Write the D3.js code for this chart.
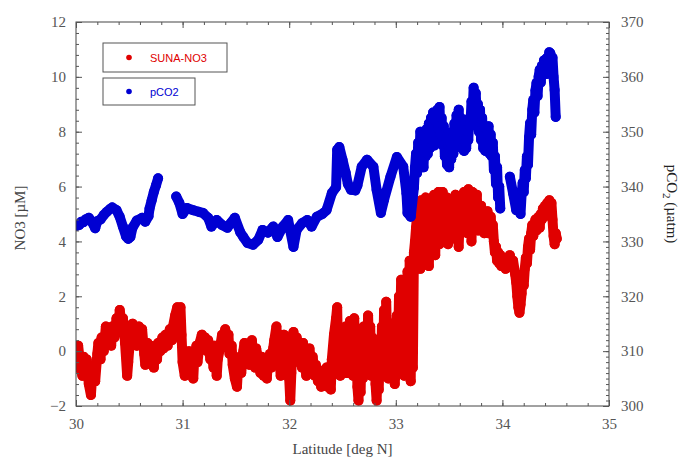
<!DOCTYPE html>
<html>
<head>
<meta charset="utf-8">
<script src="https://cdn.jsdelivr.net/npm/d3@7"></script>
<style>
  html, body { margin: 0; padding: 0; background: #fff; }
  svg { display: block; }
</style>
</head>
<body>
<svg id="chart" width="686" height="459"></svg>
<script>
// Underway survey: SUNA nitrate (left axis) and pCO2 (right axis) vs latitude.
// Gaps in the pCO2 record are marked with null.

const no3Lat = [
  30.00,30.01,30.02,30.04,30.06,30.07,30.09,30.10,30.12,30.14,30.15,30.17,30.18,30.20,30.21,30.23,30.24,30.26,30.28,30.29,
  30.31,30.33,30.34,30.36,30.38,30.40,30.41,30.43,30.44,30.46,30.48,30.49,30.51,30.53,30.55,30.57,30.59,30.61,30.62,30.64,
  30.65,30.67,30.68,30.70,30.71,30.73,30.74,30.76,30.77,30.79,30.81,30.82,30.84,30.86,30.88,30.90,30.91,30.93,30.95,30.96,
  30.98,30.99,31.00,31.02,31.03,31.05,31.06,31.08,31.10,31.11,31.13,31.14,31.16,31.18,31.19,31.21,31.23,31.24,31.26,31.27,
  31.29,31.30,31.32,31.33,31.35,31.37,31.38,31.40,31.41,31.43,31.44,31.46,31.47,31.49,31.51,31.52,31.54,31.55,31.57,31.58,
  31.60,31.61,31.63,31.65,31.66,31.68,31.69,31.71,31.73,31.74,31.76,31.77,31.79,31.80,31.82,31.83,31.85,31.86,31.88,31.89,
  31.91,31.92,31.93,31.95,31.96,31.98,31.99,32.00,32.01,32.02,32.03,32.04,32.06,32.07,32.09,32.10,32.12,32.13,32.15,32.16,
  32.18,32.19,32.21,32.22,32.24,32.25,32.27,32.28,32.30,32.31,32.33,32.35,32.36,32.38,32.39,32.40,32.42,32.44,32.45,32.46,
  32.47,32.48,32.49,32.50,32.51,32.52,32.53,32.54,32.55,32.56,32.57,32.58,32.59,32.60,32.61,32.62,32.63,32.64,32.65,32.66,
  32.67,32.68,32.69,32.70,32.71,32.72,32.73,32.74,32.75,32.76,32.77,32.78,32.79,32.80,32.81,32.82,32.83,32.84,32.85,32.86,
  32.87,32.88,32.89,32.90,32.91,32.92,32.93,32.94,32.95,32.96,32.97,32.98,32.99,33.00,33.01,33.02,33.03,33.04,33.05,33.06,
  33.07,33.08,33.09,33.10,33.11,33.12,33.13,33.14,33.15,33.16,33.17,33.18,33.19,33.20,33.21,33.22,33.23,33.24,33.25,33.26,
  33.27,33.28,33.29,33.30,33.31,33.32,33.33,33.34,33.35,33.36,33.37,33.38,33.39,33.40,33.41,33.42,33.43,33.44,33.45,33.46,
  33.47,33.48,33.49,33.50,33.51,33.52,33.53,33.54,33.55,33.56,33.57,33.58,33.59,33.60,33.61,33.62,33.63,33.64,33.65,33.66,
  33.67,33.68,33.69,33.70,33.71,33.72,33.73,33.74,33.75,33.76,33.77,33.78,33.79,33.80,33.81,33.82,33.83,33.84,33.85,33.86,
  33.87,33.88,33.89,33.90,33.91,33.92,33.93,33.94,33.95,33.96,33.97,33.98,33.99,34.01,34.03,34.05,34.07,34.09,34.10,34.12,
  34.13,34.14,34.15,34.16,34.17,34.18,34.19,34.20,34.21,34.22,34.23,34.24,34.25,34.26,34.27,34.28,34.29,34.30,34.31,34.32,
  34.33,34.34,34.35,34.36,34.37,34.38,34.39,34.40,34.41,34.42,34.43,34.44,34.45,34.46,34.47,34.48,34.49,34.50,34.51
];
const no3 = [
  0.0,-0.6,0.2,-0.5,-0.9,-0.2,-0.8,-0.3,-1.2,-1.6,-1.0,-0.6,-1.1,-0.1,0.3,-0.3,0.5,0.0,0.9,0.4,
  0.8,0.2,0.9,0.5,1.2,0.8,1.5,0.9,1.2,0.3,-0.9,-0.4,0.6,1.0,0.5,0.2,0.9,0.4,0.8,-0.1,
  -0.5,0.3,-0.2,0.2,-0.4,-0.6,0.0,-0.3,0.3,0.0,0.5,0.1,0.6,0.2,0.8,0.4,0.9,1.3,1.6,1.2,
  1.6,0.6,-0.4,-0.9,-0.3,-0.6,0.0,-0.8,-1.0,-0.2,0.2,-0.4,0.3,0.6,0.1,0.5,0.0,0.4,-0.3,0.1,
  -0.6,0.2,-0.9,-0.3,0.1,0.6,0.2,0.8,0.3,0.6,-0.1,0.2,-0.5,-1.0,-1.3,-0.6,-0.2,-0.8,0.0,0.3,
  -0.4,0.0,-0.5,0.4,-0.2,-0.6,0.1,-0.3,-0.8,-0.2,-0.9,-0.5,-1.0,-0.4,-0.1,-0.6,0.1,0.4,0.9,0.3,
  -0.3,-0.9,-0.2,0.6,0.0,-0.6,0.5,-1.0,-1.8,-0.8,0.2,0.7,0.0,0.5,-0.4,0.1,-0.6,0.3,-0.5,-0.9,
  -0.2,0.1,-0.6,-0.2,-0.9,-0.5,-1.1,-0.7,-1.3,-0.8,-1.0,-0.6,-1.3,-1.0,-1.4,-0.3,0.6,1.2,1.6,-0.5,
  0.8,-0.9,0.5,-0.7,0.6,-0.4,0.9,-0.8,0.4,-0.6,1.1,-0.3,0.8,-0.9,1.2,-0.5,0.5,-1.3,-1.8,-0.6,
  -1.5,0.4,-1.0,0.9,-0.7,0.7,-0.5,1.3,-0.2,0.9,-0.9,0.5,-0.6,0.2,-1.2,-1.8,-0.7,-1.4,0.3,-0.9,
  0.9,-0.5,1.5,-0.4,1.8,0.2,-1.0,0.6,-0.5,1.0,-0.8,0.4,-1.2,-0.5,1.3,-0.3,2.0,0.5,2.6,-0.4,
  2.3,-0.9,1.5,-0.6,2.9,0.0,3.3,-1.1,3.0,-0.6,3.6,4.0,4.5,5.0,3.3,5.3,3.0,5.5,3.5,5.2,
  3.2,5.6,3.8,5.4,3.1,5.0,3.6,5.6,4.0,5.7,3.5,5.3,4.2,5.8,3.9,5.5,4.3,5.8,4.0,5.4,
  4.5,5.6,3.9,5.2,4.4,5.5,4.1,5.3,4.6,5.7,4.2,5.4,3.8,5.0,4.4,5.6,4.6,5.8,4.9,5.6,
  4.3,5.9,5.0,5.6,4.0,5.8,4.6,5.5,4.8,5.7,4.4,5.2,4.6,5.3,4.5,5.0,4.3,4.9,4.6,5.1,
  4.3,4.7,4.9,4.4,4.6,4.0,3.6,3.8,3.3,3.6,3.2,3.5,3.1,3.4,3.0,3.3,3.5,3.1,3.3,2.8,
  2.5,2.0,1.6,1.4,1.7,2.1,2.7,2.4,3.0,3.4,3.2,3.8,4.1,3.7,4.3,4.6,4.2,4.5,4.8,4.4,
  4.7,4.9,4.5,5.0,4.8,5.2,4.9,5.3,5.0,5.4,5.2,5.5,5.2,5.4,4.8,4.2,3.9,4.3,4.1
];

const co2Lat = [
  30.00,30.03,30.05,30.07,30.09,30.12,30.14,30.16,30.18,30.20,30.23,30.26,30.29,30.32,30.34,30.38,30.41,30.44,30.47,30.49,
  30.51,30.53,30.57,30.62,30.65,30.68,30.69,30.71,30.73,30.75,30.77,30.85,
  30.94,30.97,31.00,31.04,31.10,31.15,31.19,31.24,31.27,31.32,31.37,31.42,31.45,31.49,31.54,31.57,31.61,31.66,31.71,31.75,
  31.80,31.85,31.89,31.94,31.99,32.04,32.07,32.12,32.17,32.21,32.26,32.31,32.35,32.40,32.44,32.45,32.47,32.50,32.53,32.55,
  32.58,32.62,32.64,32.68,32.73,32.79,32.82,32.86,32.89,32.95,33.01,33.07,33.10,33.11,33.14,
  33.17,33.18,33.19,33.20,33.21,33.22,33.23,33.24,33.25,33.26,33.27,33.28,33.29,33.30,33.31,33.32,33.33,33.34,33.35,33.36,
  33.37,33.38,33.39,33.40,33.41,33.42,33.43,33.44,33.45,33.46,33.47,33.48,33.49,33.50,33.51,33.52,33.53,33.54,33.55,33.56,
  33.57,33.58,33.59,33.60,33.61,33.62,33.63,33.64,33.65,33.66,33.67,33.68,33.69,33.70,33.71,33.72,33.73,33.74,33.75,33.76,
  33.77,33.78,33.79,33.80,33.81,33.82,33.83,33.84,33.85,33.86,33.87,33.88,33.89,33.90,33.91,33.92,33.93,33.94,33.95,33.96,
  33.97,33.98,34.03,
  34.07,34.10,34.13,34.16,34.17,34.18,34.19,34.20,34.21,34.22,34.23,34.24,34.25,34.26,34.27,34.28,34.29,34.30,34.31,34.32,
  34.33,34.34,34.35,34.36,34.37,34.38,34.39,34.40,34.41,34.42,34.43,34.44,34.45,34.46,34.47,34.48,34.49,34.50
];
const co2 = [
  332.8,333.0,333.6,333.5,334.0,334.3,333.8,333.2,332.4,333.7,334.0,334.8,335.4,335.9,336.2,335.7,334.5,332.7,330.9,330.5,
  330.8,332.5,333.8,334.3,333.6,334.6,336.0,337.5,339.0,340.2,341.5,null,
  338.2,337.0,335.0,336.1,335.7,335.4,335.2,334.3,332.7,333.9,333.0,332.5,333.3,334.3,331.7,330.8,329.7,329.4,330.3,332.1,
  331.6,332.7,330.8,332.7,333.9,329.0,332.1,333.3,333.9,332.7,334.5,335.0,335.7,338.8,339.9,346.7,347.2,344.9,342.5,340.5,
  339.4,339.3,340.2,343.6,344.9,343.6,339.4,335.2,337.6,341.8,345.4,343.6,338.8,335.2,334.5,
  339.8,343.5,346.0,342.5,348.0,344.0,350.0,345.0,348.5,343.5,349.0,345.5,350.5,346.0,351.5,347.0,352.5,348.5,353.5,347.5,
  352.0,349.0,354.0,350.5,354.5,349.5,352.5,347.5,351.0,345.5,349.0,344.0,347.5,343.5,348.0,345.0,350.0,346.0,351.5,347.5,
  353.0,349.0,354.0,350.0,352.5,347.0,351.0,346.5,352.0,347.0,350.0,348.5,352.5,351.0,355.5,353.0,358.0,354.5,357.0,352.5,
  355.0,350.0,354.0,348.5,352.5,347.0,351.0,346.5,350.5,347.0,351.0,346.0,349.5,345.5,348.0,343.0,345.5,340.5,343.5,338.0,
  340.0,336.0,null,
  341.8,338.8,335.7,337.6,335.0,338.5,340.7,339.0,343.0,341.5,345.5,344.0,349.0,351.6,349.5,354.0,355.8,353.5,357.5,358.9,
  356.5,360.0,361.3,359.0,362.0,360.5,363.0,363.1,360.5,363.5,362.0,364.5,364.3,361.5,363.5,360.0,357.6,352.7
];

const latTicks = [30, 31, 32, 33, 34, 35];
const no3Ticks = [-2, 0, 2, 4, 6, 8, 10, 12];
const co2Ticks = [300, 310, 320, 330, 340, 350, 360, 370];

const seriesNames = ["SUNA-NO3", "pCO2"];
const seriesColors = ["#e00000", "#0000d2"];

const W = 686, H = 459;
const m = { left: 76, right: 77, top: 22, bottom: 53 };
const x0 = m.left, x1 = W - m.right, y0 = m.top, y1 = H - m.bottom;

const svg = d3.select("#chart");
const x = d3.scaleLinear().domain([30, 35]).range([x0, x1]);
const yL = d3.scaleLinear().domain([-2, 12]).range([y1, y0]);
const yR = d3.scaleLinear().domain([300, 370]).range([y1, y0]);

const defs = svg.append("defs");
defs.append("clipPath").attr("id", "plot-clip")
  .append("rect").attr("x", x0).attr("y", y0).attr("width", x1 - x0).attr("height", y1 - y0);

// Data layers: each sample as a dot, joined by a thick stroke of the same colour
function drawSeries(lats, vals, yScale, color) {
  const pts = lats.map((d, i) => [d, vals[i]]);
  const g = svg.append("g").attr("clip-path", "url(#plot-clip)");
  const line = d3.line()
    .defined(d => d[1] !== null)
    .x(d => x(d[0])).y(d => yScale(d[1]));
  g.append("path").datum(pts)
    .attr("d", line)
    .attr("fill", "none")
    .attr("stroke", color)
    .attr("stroke-width", 10)
    .attr("stroke-linejoin", "round")
    .attr("stroke-linecap", "round");
  g.selectAll("circle").data(pts.filter(d => d[1] !== null)).join("circle")
    .attr("cx", d => x(d[0])).attr("cy", d => yScale(d[1]))
    .attr("r", 5).attr("fill", color);
}
drawSeries(no3Lat, no3, yL, seriesColors[0]);
drawSeries(co2Lat, co2, yR, seriesColors[1]);

// Frame and inward ticks
const axisColor = "#444";
const tickColor = "#555";
const labelColor = "#555";
const fontSerif = "'Liberation Serif', 'Times New Roman', serif";

svg.append("rect").attr("x", x0).attr("y", y0)
  .attr("width", x1 - x0).attr("height", y1 - y0)
  .attr("fill", "none").attr("stroke", axisColor).attr("stroke-width", 1);

function styleAxis(g) {
  g.select(".domain").remove();
  g.selectAll(".tick line").attr("stroke", tickColor);
  g.selectAll(".tick text")
    .attr("fill", labelColor)
    .style("font-family", fontSerif)
    .style("font-size", "15px");
}

const latMinor = d3.range(30, 35.001, 0.2);
const no3Minor = d3.range(-2, 12.001, 0.4);
const co2Minor = d3.range(300, 370.001, 1);

// bottom
svg.append("g").attr("transform", `translate(0,${y1})`)
  .call(d3.axisBottom(x).tickValues(latMinor).tickSize(-3).tickFormat(""))
  .call(styleAxis);
svg.append("g").attr("transform", `translate(0,${y1})`)
  .call(d3.axisBottom(x).tickValues(latTicks).tickSize(-6).tickPadding(12).tickFormat(d3.format("d")))
  .call(styleAxis);
// top
svg.append("g").attr("transform", `translate(0,${y0})`)
  .call(d3.axisTop(x).tickValues(latMinor).tickSize(-3).tickFormat(""))
  .call(styleAxis);
svg.append("g").attr("transform", `translate(0,${y0})`)
  .call(d3.axisTop(x).tickValues(latTicks).tickSize(-6).tickFormat(""))
  .call(styleAxis);
// left
svg.append("g").attr("transform", `translate(${x0},0)`)
  .call(d3.axisLeft(yL).tickValues(no3Minor).tickSize(-3).tickFormat(""))
  .call(styleAxis);
svg.append("g").attr("transform", `translate(${x0},0)`)
  .call(d3.axisLeft(yL).tickValues(no3Ticks).tickSize(-6).tickPadding(10).tickFormat(d3.format("d")))
  .call(styleAxis);
// right
svg.append("g").attr("transform", `translate(${x1},0)`)
  .call(d3.axisRight(yR).tickValues(co2Minor).tickSize(-3).tickFormat(""))
  .call(styleAxis);
svg.append("g").attr("transform", `translate(${x1},0)`)
  .call(d3.axisRight(yR).tickValues(co2Ticks).tickSize(-6).tickPadding(12).tickFormat(d3.format("d")))
  .call(styleAxis);

// Axis titles
svg.append("text")
  .attr("x", (x0 + x1) / 2).attr("y", 454)
  .attr("text-anchor", "middle")
  .attr("fill", "#444")
  .style("font-family", fontSerif).style("font-size", "15px")
  .text("Latitude [deg N]");

svg.append("text")
  .attr("transform", `translate(25,${(y0 + y1) / 2 + 4}) rotate(-90)`)
  .attr("text-anchor", "middle")
  .attr("fill", "#444")
  .style("font-family", fontSerif).style("font-size", "15px")
  .text("NO3 [µM]");

const rt = svg.append("text")
  .attr("transform", `translate(667,${(y0 + y1) / 2 - 10}) rotate(90)`)
  .attr("text-anchor", "middle")
  .attr("fill", "#222")
  .style("font-family", fontSerif).style("font-size", "15px");
rt.append("tspan").text("pCO");
rt.append("tspan").attr("dy", 4).style("font-size", "11px").text("2");
rt.append("tspan").attr("dy", -4).text(" (µatm)");

// Legend: one framed entry per series
const legendBoxes = [
  { y: 43, w: 124, h: 29 },
  { y: 78, w: 92, h: 27 }
];
seriesNames.forEach((name, i) => {
  const b = legendBoxes[i];
  const g = svg.append("g").attr("transform", `translate(103,${b.y})`);
  g.append("rect").attr("width", b.w).attr("height", b.h)
    .attr("fill", "#fff").attr("stroke", "#555").attr("stroke-width", 1);
  g.append("circle").attr("cx", 26).attr("cy", b.h / 2).attr("r", 2.8).attr("fill", seriesColors[i]);
  g.append("text").attr("x", 47).attr("y", b.h / 2 + 4)
    .attr("fill", seriesColors[i])
    .style("font-family", "'Liberation Sans', Arial, sans-serif")
    .style("font-size", "11px")
    .text(name);
});
</script>
</body>
</html>
